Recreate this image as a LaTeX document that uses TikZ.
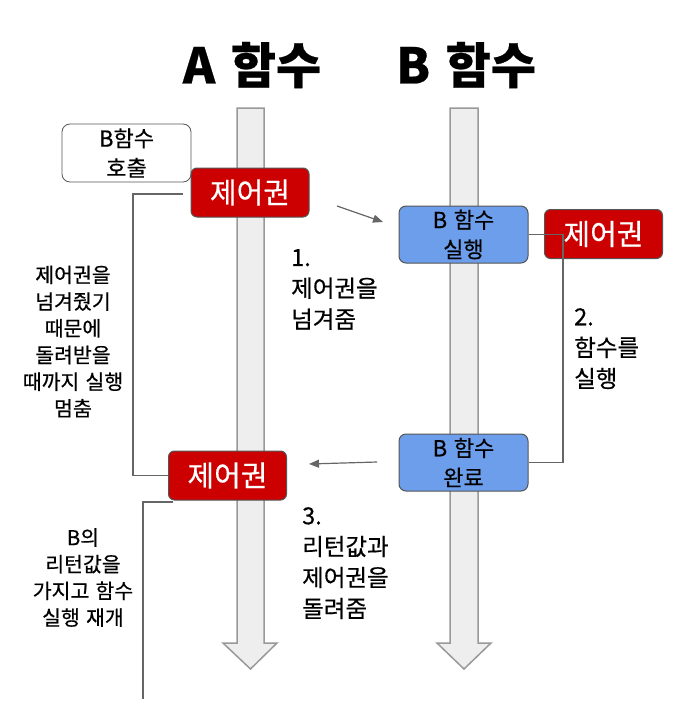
\documentclass[tikz,border=0pt]{standalone}
\usepackage{fontspec}
\setmainfont{Noto Sans CJK KR}[RawFeature={embolden=0.5}]
\usetikzlibrary{arrows.meta}
\definecolor{redbox}{HTML}{CC0000}
\definecolor{bluebox}{HTML}{6D9EEB}
\definecolor{lanefill}{HTML}{EEEEEE}
\definecolor{laneline}{HTML}{999999}
\definecolor{connline}{HTML}{666666}
\definecolor{boxline}{HTML}{555555}
\newcommand{\wgap}{\hspace{0.3em}}
\newcommand{\tgap}{\hspace{0.32em}}
\begin{document}
\begin{tikzpicture}[x=1pt,y=-1pt,
  lane/.style={fill=lanefill,draw=laneline,line width=1.5pt},
  title/.style={font=\fontsize{49}{55}\selectfont\bfseries},
  redctl/.style={rectangle,rounded corners=6pt,fill=redbox,draw=boxline,line width=1pt,text=white,
    minimum width=118pt,minimum height=49pt,inner sep=0pt,font=\fontsize{29}{33}\selectfont},
  bluefn/.style={rectangle,rounded corners=7pt,fill=bluebox,draw=boxline,line width=1pt,text=black,
    minimum width=129pt,minimum height=57pt,inner sep=0pt,align=center,font=\fontsize{22}{29.5}\selectfont},
  callbox/.style={rectangle,rounded corners=8pt,fill=white,draw=boxline,line width=0.8pt,
    minimum width=129pt,minimum height=58pt,inner sep=0pt,align=center,font=\fontsize{22}{29.5}\selectfont},
  conn/.style={draw=connline,line width=1.2pt},
  arr/.style={draw=connline,line width=1.2pt,-{Triangle[length=10pt,width=8pt]}},
  sidenote/.style={align=center,inner sep=0pt,font=\fontsize{20.5}{26.7}\selectfont},
  steplabel/.style={align=left,inner sep=0pt,anchor=north west,font=\fontsize{23.5}{31}\selectfont}
]
\useasboundingbox (0,0) rectangle (673,709);
\fill[white] (0,0) rectangle (673,709);
% lanes
\draw[lane] (237,108) -- (264,108) -- (264,643) -- (277,643) -- (250.5,669) -- (223,643) -- (237,643) -- cycle;
\draw[lane] (450,108) -- (478,108) -- (478,643) -- (491,643) -- (464,669) -- (437,643) -- (450,643) -- cycle;
% titles
\node[title] (ta) at (252,65) {A\tgap 함수};
\node[title] (tb) at (466,65) {B\tgap 함수};
% boxes
\node[callbox] (call) at (126.5,153) {B함수\\호출};
\node[redctl] (ra1) at (250,192.5) {제어권};
\node[bluefn] (b1) at (463.5,234.5) {B\wgap 함수\\실행};
\node[redctl] (rb) at (603.5,234) {제어권};
\node[bluefn] (b2) at (463.5,462.5) {B\wgap 함수\\완료};
\node[redctl] (ra2) at (227.5,475.5) {제어권};
% connectors
\coordinate (s1) at (183,194);
\draw[conn] (s1) -- (133,194) |- (ra2.west);
\coordinate (c1) at (563,234.5);
\draw[conn] (b1.east) -- (c1) |- (b2.east);
\coordinate (s2) at (173,502);
\coordinate (e2) at (143,699);
\draw[conn] (s2) -- (s2 -| e2) -- (e2);
\coordinate (a1s) at (337,206);
\coordinate (a1e) at (383,222);
\draw[arr] (a1s) -- (a1e);
\coordinate (a3s) at (377,462);
\coordinate (a3e) at (309,464);
\draw[arr] (a3s) -- (a3e);
% notes
\node[sidenote] (n1) at (73,341.5) {제어권을\\넘겨줬기\\때문에\\돌려받을\\때까지\wgap 실행\\멈춤};
\node[sidenote] (n2) at (83,577.5) {B의\\리턴값을\\가지고\wgap 함수\\실행\wgap 재개};
\node[steplabel] (l1) at (291,249) {1.\\제어권을\\넘겨줌};
\node[steplabel] (l2) at (574,308) {2.\\함수를\\실행};
\node[steplabel] (l3) at (302,507) {3.\\리턴값과\\제어권을\\돌려줌};
\end{tikzpicture}
\end{document}
